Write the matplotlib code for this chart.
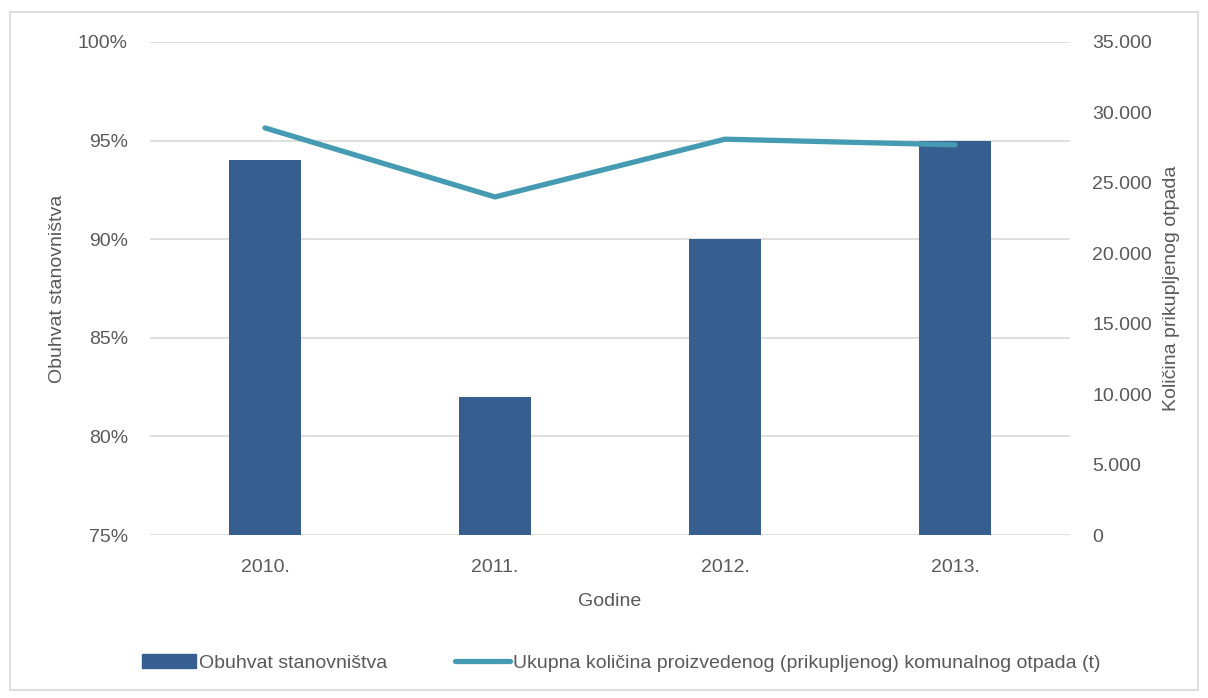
import matplotlib
matplotlib.use("Agg")
import matplotlib.pyplot as plt
from matplotlib import font_manager
from matplotlib.patches import Rectangle
from matplotlib.lines import Line2D
from matplotlib.ticker import FuncFormatter

# Data
years = ["2010.", "2011.", "2012.", "2013."]
coverage_pct = [94, 82, 90, 95]
waste_tonnes = [28900, 24000, 28100, 27700]
left_ticks = [75, 80, 85, 90, 95, 100]
right_ticks = [0, 5000, 10000, 15000, 20000, 25000, 30000, 35000]

bar_label = "Obuhvat stanovništva"
line_label = "Ukupna količina proizvedenog (prikupljenog) komunalnog otpada (t)"

available = {f.name for f in font_manager.fontManager.ttflist}
family = "Liberation Sans Narrow" if "Liberation Sans Narrow" in available else "Liberation Sans"
plt.rcParams["font.family"] = [family, "DejaVu Sans"]
fs = 14

W, H = 1208, 698
fig = plt.figure(figsize=(W / 100, H / 100), dpi=100)
fig.patch.set_facecolor("white")

# outer frame
fig.add_artist(Rectangle((10 / W, 8 / H), 1188 / W, 678 / H, transform=fig.transFigure,
                         fill=False, edgecolor="#d9d9d9", linewidth=1.2))

ax = fig.add_axes([150 / W, (H - 535) / H, 920 / W, 493 / H])
bar_color = "#365f8f"
line_color = "#449bb2"
text_color = "#595959"

x = list(range(len(years)))
ax.bar(x, coverage_pct, width=0.313, color=bar_color, zorder=2)
ax.set_ylim(75, 100)
ax.set_xlim(-0.5, len(years) - 0.5)
ax.set_yticks(left_ticks)
ax.yaxis.set_major_formatter(FuncFormatter(lambda v, p: f"{int(v)}%"))
ax.set_xticks(x)
ax.set_xticklabels(years)
ax.grid(axis="y", color="#d9d9d9", linewidth=1.2, zorder=0)
ax.set_axisbelow(True)
for s in ax.spines.values():
    s.set_visible(False)
ax.tick_params(axis="both", length=0, labelsize=fs, colors=text_color, pad=16)
ax.tick_params(axis="x", pad=17)
ax.set_xlabel("Godine", fontsize=fs, color=text_color)
ax.xaxis.set_label_coords(0.5, -0.118)
ax.set_ylabel(bar_label, fontsize=fs, color=text_color)
ax.yaxis.set_label_coords(-0.091, 0.5)

ax2 = ax.twinx()
ax2.plot(x, waste_tonnes, color=line_color, linewidth=3.8, solid_capstyle="round", zorder=3)
ax2.set_ylim(0, 35000)
ax2.set_yticks(right_ticks)
ax2.yaxis.set_major_formatter(FuncFormatter(lambda v, p: f"{int(v):,}".replace(",", ".")))
for s in ax2.spines.values():
    s.set_visible(False)
ax2.tick_params(axis="y", length=0, labelsize=fs, colors=text_color, pad=16)
ax2.set_ylabel("Količina prikupljenog otpada", fontsize=fs, color=text_color)
ax2.yaxis.set_label_coords(1.101, 0.5)

handles = [Rectangle((0, 0), 1, 1, color=bar_color),
           Line2D([0], [0], color=line_color, linewidth=3.8, solid_capstyle="round")]
fig.legend(handles, [bar_label, line_label], loc="center", bbox_to_anchor=(621 / W, (H - 663) / H),
           ncol=2, frameon=False, fontsize=fs, labelcolor=text_color, handlelength=2.8,
           handletextpad=0.15, columnspacing=3.5, handleheight=0.7)

fig.savefig("out.png", dpi=100)
